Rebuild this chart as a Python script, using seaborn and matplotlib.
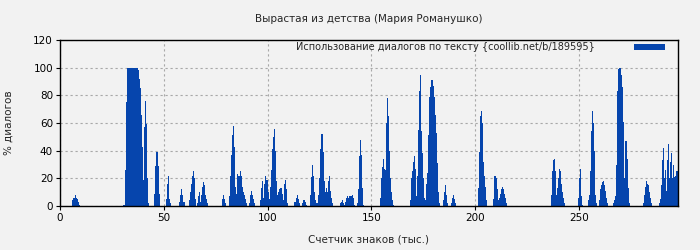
import numpy as np
import pandas as pd
import matplotlib
matplotlib.use("Agg")
import matplotlib.pyplot as plt
from matplotlib.patches import Patch
import seaborn as sns

title = "Вырастая из детства (Мария Романушко)"
series_label = "Использование диалогов по тексту {coollib.net/b/189595}"
x_label = "Счетчик знаков (тыс.)"
y_label = "% диалогов"
x_ticks = [0, 50, 100, 150, 200, 250]
y_ticks = [0, 20, 40, 60, 80, 100, 120]

# start (thousand chars) of each run of non-empty 0.5k bins
run_starts = [6.0, 30.5, 45.5, 51.0, 57.5, 62.0, 66.0, 78.0, 81.5, 91.0, 96.5,
              113.0, 116.5, 120.5, 124.0, 135.0, 143.0, 154.0, 168.5, 176.0,
              184.5, 188.5, 201.5, 208.5, 236.5, 249.5, 254.5, 259.5, 266.5,
              281.0, 288.5]
# % of dialogue in each 0.5k bin of every run
run_values = [
    [4, 6, 8, 6, 5, 3, 1],
    [1, 1, 26, 75, 100, 100, 100, 100, 100, 100, 100, 100, 100, 100, 98, 92, 85, 66, 43, 19, 57, 76, 59, 20, 2],
    [9, 29, 39, 29, 9],
    [5, 16, 22, 5, 2],
    [3, 8, 12, 8, 3],
    [4, 10, 16, 22, 25, 20, 5],
    [2, 7, 10, 3, 8, 14, 17, 15, 8, 5, 2],
    [5, 8, 5, 2],
    [7, 22, 37, 51, 58, 43, 14, 9, 23, 22, 25, 22, 14, 10, 8, 5, 2],
    [2, 8, 11, 8, 5, 2],
    [4, 13, 18, 6, 16, 22, 19, 10, 5, 14, 26, 41, 50, 56, 40, 18, 8, 10, 12, 13, 13, 9, 4, 16, 19, 12, 2],
    [3, 6, 8, 5, 2],
    [2, 4, 4, 3, 1],
    [8, 21, 30, 22, 10, 4, 2],
    [2, 8, 20, 41, 52, 39, 18, 10, 13, 10, 18, 22, 11, 6, 2],
    [2, 3, 4, 2, 1, 3, 6, 7, 6, 7, 7, 8, 6, 1],
    [2, 12, 36, 48, 37, 13, 1],
    [6, 20, 28, 34, 27, 26, 60, 78, 65, 40, 20, 10, 4, 1],
    [4, 20, 25, 32, 36, 27, 7, 22, 55, 83, 95, 54, 38, 20, 6],
    [4, 16, 24, 51, 79, 86, 91, 87, 79, 66, 53, 31, 10, 2],
    [4, 10, 15, 8, 2],
    [2, 6, 8, 5, 2],
    [13, 39, 65, 69, 60, 32, 22, 14, 4],
    [5, 22, 22, 20, 12, 4, 6, 9, 12, 14, 12, 9, 6, 2],
    [8, 25, 33, 34, 25, 8, 13, 20, 27, 25, 16, 10, 6, 2],
    [6, 20, 27, 7, 1],
    [4, 8, 25, 54, 69, 60, 40, 8, 2],
    [4, 12, 15, 17, 18, 15, 11, 6, 2],
    [2, 4, 7, 30, 83, 99, 100, 100, 95, 86, 61, 20, 47, 34, 13, 2],
    [2, 8, 14, 18, 16, 15, 10, 6, 2],
    [2, 5, 15, 33, 42, 20, 26, 11, 33, 45, 20, 32, 38, 20, 30, 21, 22, 25, 25],
]
bin_size = 0.5
x_max = 297.8

xs, ws = [], []
for s, vals in zip(run_starts, run_values):
    for i, v in enumerate(vals):
        xs.append(s + i * bin_size + bin_size / 4)
        ws.append(float(v))
df = pd.DataFrame({"k": xs, "pct": ws})

bar_color = "#0645AD"
bg = "#F2F2F2"

sns.set_theme(style="ticks")
plt.rcParams["font.family"] = ["DejaVu Sans"]
plt.rcParams["axes.edgecolor"] = "black"

fig = plt.figure(figsize=(7, 2.5), dpi=100, facecolor=bg)
ax = fig.add_axes([60 / 700, 1 - 206 / 250, (678 - 60) / 700, (206 - 40) / 250])
ax.set_facecolor(bg)

sns.histplot(data=df, x="k", weights="pct", binwidth=bin_size, binrange=(0, 298.0),
             stat="count", color=bar_color, alpha=1, linewidth=0, element="bars", ax=ax)

ax.set_xlim(0, x_max)
ax.set_ylim(0, 120)
ax.set_xticks(x_ticks)
ax.set_yticks(y_ticks)
ax.tick_params(labelsize=7.5, length=3, width=0.8, colors="black", pad=2)
for sp in ax.spines.values():
    sp.set_visible(True)
    sp.set_color("black")
    sp.set_linewidth(1.0)
ax.grid(True, color="#A8A8A8", linestyle=(0, (2, 2.5)), linewidth=0.8)
ax.set_axisbelow(True)

ax.set_xlabel(x_label, fontsize=7.5, labelpad=8)
ax.set_ylabel(y_label, fontsize=7.5, labelpad=14)
fig.text(369 / 700, 1 - 19 / 250, title, ha="center", va="center", fontsize=7.5)

handle = Patch(facecolor=bar_color, edgecolor="none")
ax.legend([handle], [series_label], loc="upper right", frameon=False,
          bbox_to_anchor=(0.985, 1.01), markerfirst=False, fontsize=7,
          handlelength=3.2, handleheight=0.65, borderaxespad=0.0,
          handletextpad=4.0)

fig.savefig("out.png", dpi=100, facecolor=bg)
